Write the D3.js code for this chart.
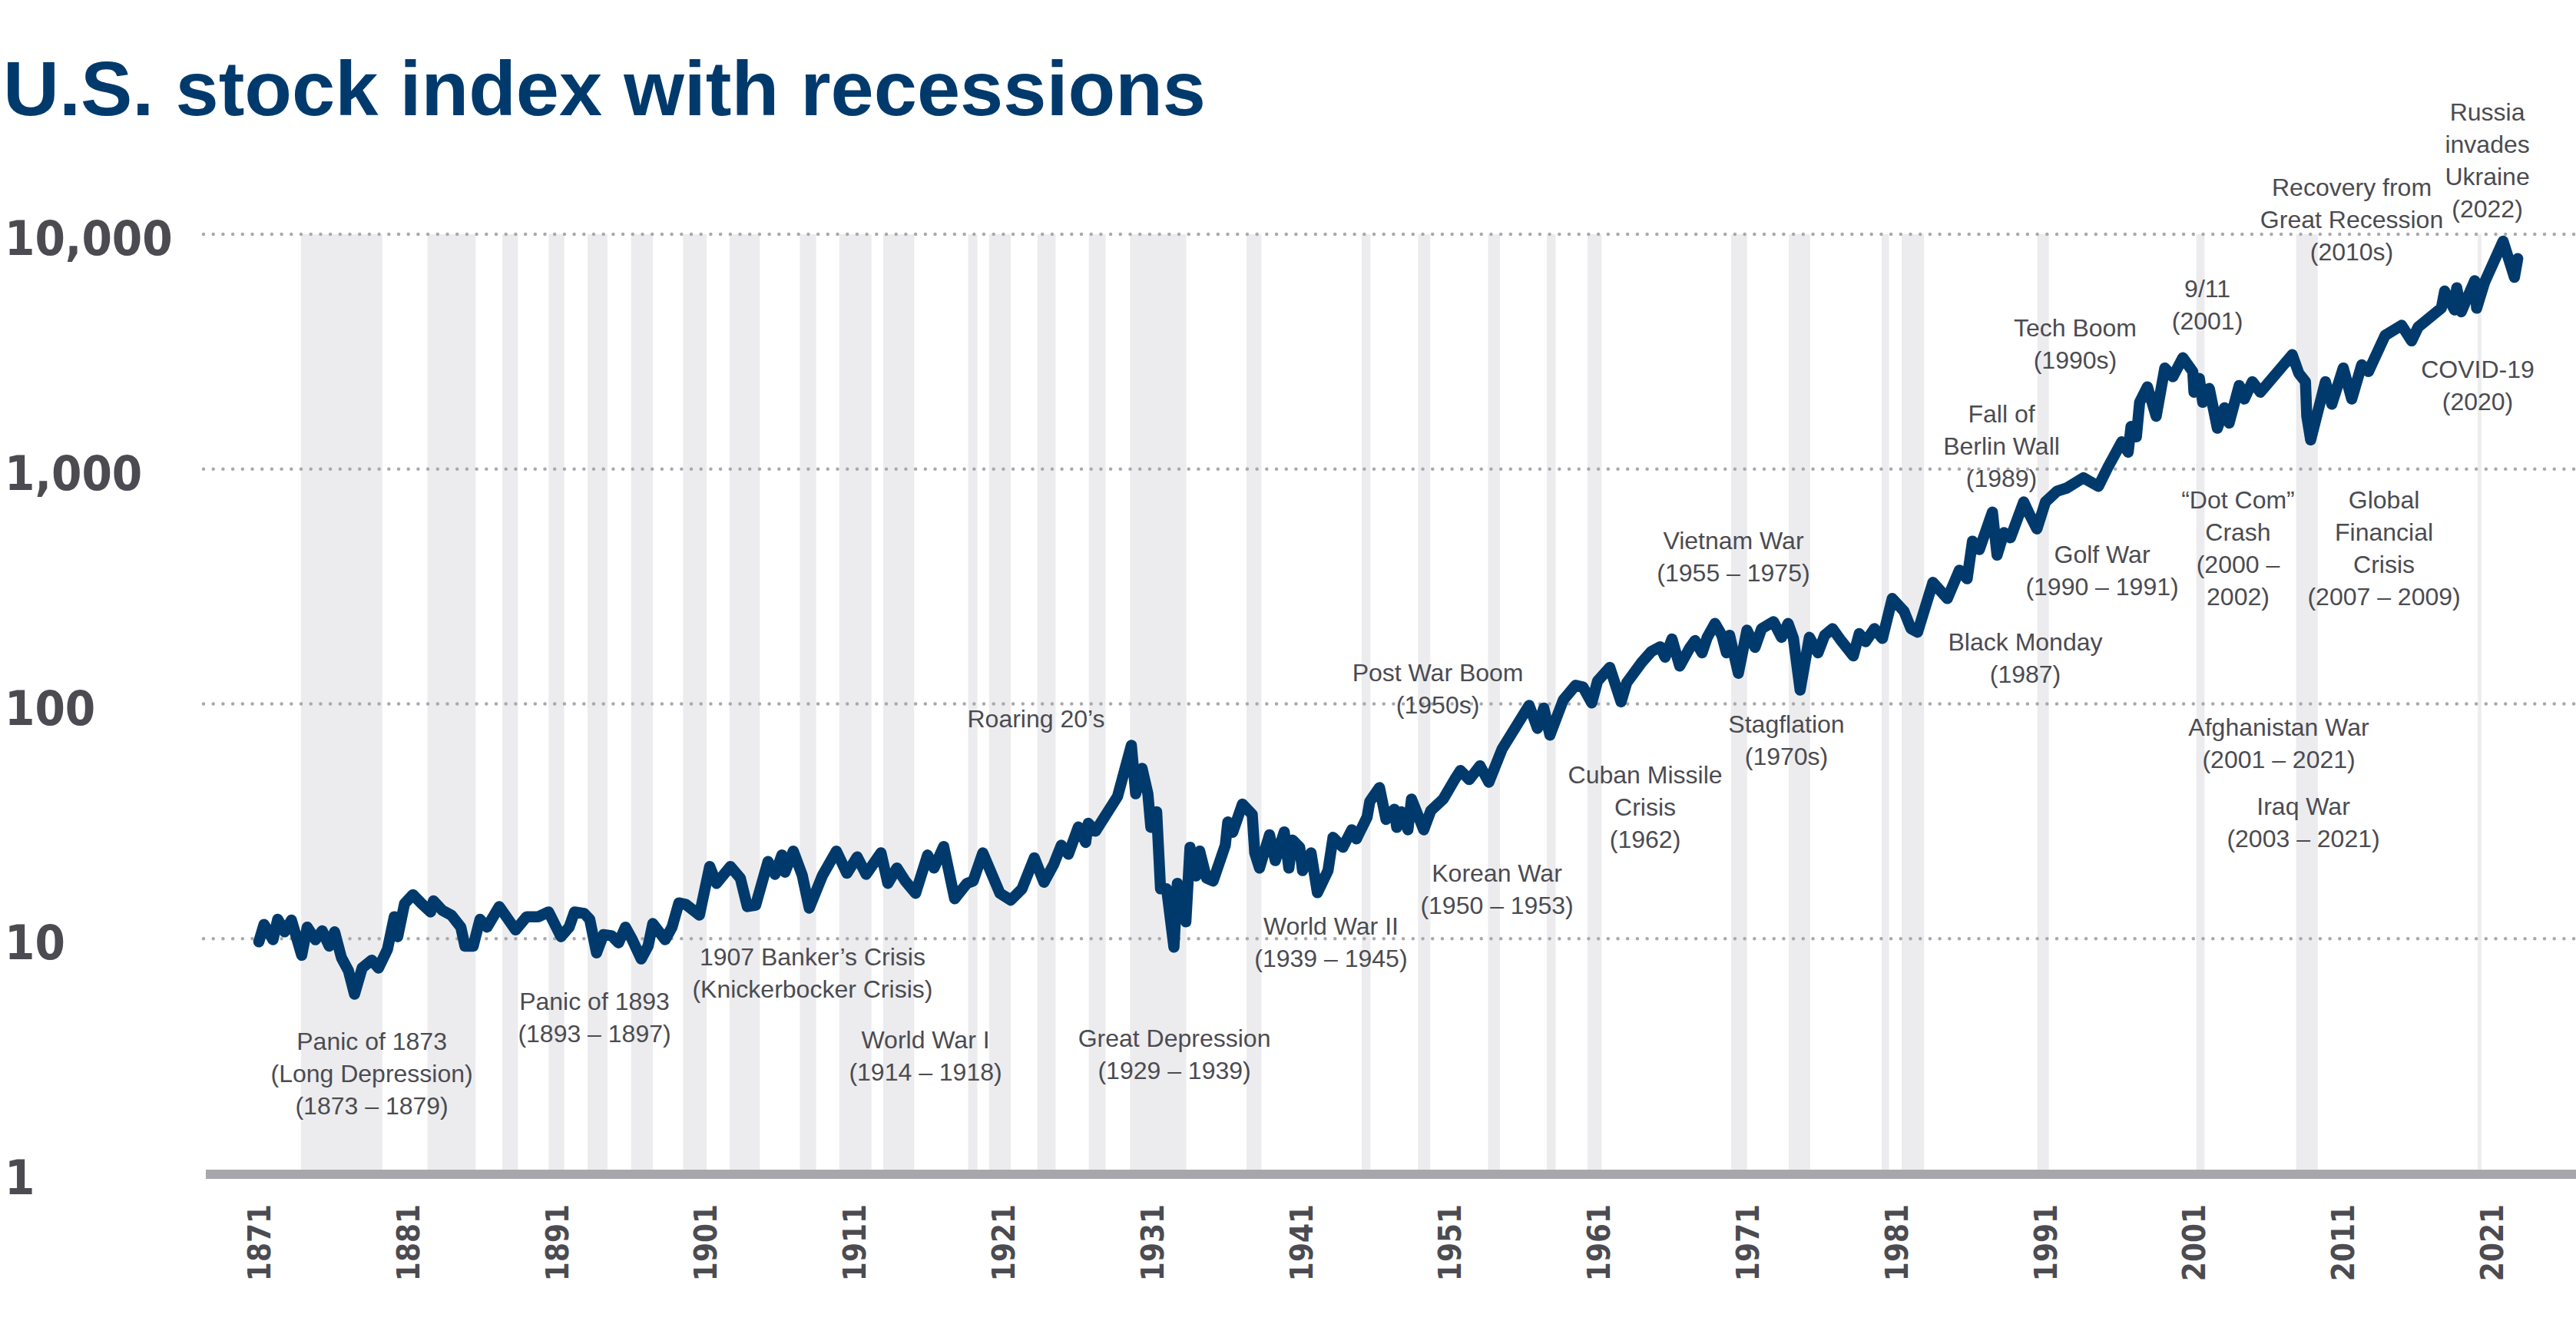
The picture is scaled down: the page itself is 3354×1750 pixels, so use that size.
<!DOCTYPE html>
<html>
<head>
<meta charset="utf-8">
<script src="https://cdn.jsdelivr.net/npm/d3@7"></script>
<style>
  html, body { margin: 0; padding: 0; background: #ffffff; }
  svg { display: block; }
</style>
</head>
<body>
<svg id="chart" width="3354" height="1750"></svg>
<script>
// ---------------- DATA ----------------
const chartTitle = "U.S. stock index with recessions";

const indexYears = [1871.0,1871.35,1871.95,1872.27,1872.73,1873.19,1873.88,1874.25,1874.8,1875.26,1875.73,1876.09,1876.55,1877.02,1877.43,1877.94,1878.59,1879.04,1879.64,1880.1,1880.33,1880.79,1881.35,1881.94,1882.54,1882.73,1883.33,1883.93,1884.57,1884.85,1885.4,1885.86,1886.33,1887.15,1888.25,1888.99,1889.78,1890.47,1891.3,1891.85,1892.21,1892.86,1893.23,1893.69,1894.15,1894.7,1895.17,1895.63,1896.09,1896.69,1897.15,1897.47,1898.3,1898.76,1899.22,1899.68,1900.6,1901.29,1901.75,1902.68,1903.35,1903.82,1904.38,1905.21,1905.68,1906.14,1906.35,1906.91,1907.51,1907.98,1908.87,1909.8,1910.51,1911.2,1911.8,1912.8,1913.26,1913.87,1914.43,1915.12,1915.93,1916.36,1917.01,1917.75,1918.57,1918.99,1919.64,1920.79,1921.52,1922.27,1923.1,1923.75,1924.4,1924.91,1925.39,1926.06,1926.55,1926.72,1927.21,1928.69,1929.62,1929.91,1930.34,1930.73,1930.93,1931.32,1931.58,1931.99,1932.48,1932.71,1933.28,1933.56,1933.95,1934.21,1934.67,1935.11,1935.93,1936.1,1936.43,1937.08,1937.74,1937.91,1938.23,1938.9,1939.29,1939.89,1940.2,1940.45,1940.93,1941.12,1941.69,1942.12,1942.83,1943.17,1943.83,1944.43,1944.74,1945.46,1945.64,1946.29,1946.73,1947.29,1947.45,1947.78,1948.2,1948.44,1949.26,1949.74,1950.57,1951.39,1951.73,1952.32,1953.04,1953.64,1954.52,1956.34,1956.91,1957.33,1957.74,1958.64,1959.46,1959.96,1960.55,1960.94,1961.76,1962.52,1962.9,1963.9,1964.55,1965.15,1965.48,1965.94,1966.46,1967.13,1967.49,1967.96,1968.31,1968.83,1969.29,1969.6,1969.81,1970.4,1970.98,1971.52,1971.96,1972.76,1973.3,1973.74,1974.1,1974.55,1975.17,1975.75,1976.2,1976.73,1977.3,1978.12,1978.52,1978.95,1979.54,1980.08,1980.74,1981.53,1982.0,1982.44,1983.47,1984.44,1985.25,1985.77,1986.13,1986.59,1987.47,1987.78,1988.24,1988.68,1989.57,1990.0,1990.46,1991.03,1991.8,1992.46,1993.58,1994.59,1995.22,1996.16,1996.59,1996.78,1997.14,1997.36,1997.88,1998.47,1999.05,1999.59,2000.26,2000.93,2001.01,2001.37,2001.6,2002.04,2002.58,2003.06,2003.37,2004.05,2004.39,2004.93,2005.47,2007.61,2008.05,2008.5,2008.59,2008.85,2009.84,2010.27,2011.04,2011.61,2012.28,2012.73,2013.85,2014.96,2015.63,2016.07,2017.63,2017.85,2018.52,2018.66,2018.97,2019.87,2020.0,2020.53,2021.78,2022.54,2022.76];

const indexValues = [9.7,11.5,9.9,12.1,10.7,12.0,8.5,11.2,9.9,10.8,9.3,10.7,8.3,7.3,5.8,7.5,8.1,7.5,9.0,12.4,10.2,14.1,15.4,14.1,13.0,14.5,13.2,12.6,11.2,9.3,9.3,12.1,11.2,13.7,10.9,12.4,12.4,13.0,10.2,11.2,13.0,12.8,12.1,8.7,10.4,10.3,9.6,11.2,9.9,8.2,9.3,11.6,9.9,11.2,14.2,14.0,12.6,20.3,17.2,20.3,18.1,13.7,13.9,21.3,18.8,22.7,19.2,23.6,18.6,13.5,18.6,23.6,19.0,22.3,18.8,23.2,17.2,20.0,17.6,15.6,22.7,20,24.7,14.8,17.2,17.6,23.2,15.6,14.6,16.3,22.1,17.4,20.7,25.0,22.9,29.9,25.7,31.0,28.7,40.3,66.6,41.4,53.1,41.4,29.8,34.7,16.3,16.3,9.2,17.2,11.8,24.5,18.5,23.6,18.1,17.6,25,31.4,28.4,37.4,33.8,23.2,20,27.7,21.5,28.5,20,26.3,24.5,19.5,23.2,15.7,19.5,27,24.5,29.1,26.6,33,38.4,44,32.2,35.6,29.8,34.7,29.1,39.3,29.1,35.1,39.3,48.2,52,47.6,54.5,46.4,64.1,98.5,78.6,96,73.6,104,120,118,101,125,143,102,123,150,167,175,158,189,145,173,186,165,192,220,196,165,196,135,206,174,209,224,192,220,190,114.5,192,165,196,209,186,160,199,184,209,190,281,248,209,202,329,281,371,341,493,454,656,430,536,510,724,634,556,724,804,830,918,844,1016,1306,1180,1518,1371,1924,2240,1679,2692,2473,2978,2600,2125,2432,1924,2203,1493,1824,1571,2270,1987,2355,2125,3069,2560,2355,1679,1331,2355,1890,2692,1987,2780,2600,3707,4093,3516,4025,4844,5728,4761,5914,4677,6335,4844,6233,9338,6561,7879];

// Recession periods (decimal years)
const recessionStarts = [1873.83,1882.33,1887.36,1890.47,1893.08,1896.01,1899.5,1902.63,1907.35,1910.0,1912.95,1918.65,1920.06,1923.3,1926.76,1929.53,1937.36,1945.09,1948.88,1953.58,1957.53,1960.26,1969.91,1973.79,1980.03,1981.37,1990.49,2001.17,2007.87,2020.08];
const recessionEnds   = [1879.3,1885.56,1888.41,1891.52,1894.42,1897.47,1901.09,1904.66,1908.44,1912.16,1915.03,1919.27,1921.52,1924.53,1927.89,1933.31,1938.36,1945.68,1949.7,1954.38,1958.12,1961.21,1970.99,1975.22,1980.52,1982.88,1991.26,2001.72,2009.33,2020.32];

const yTickValues = [1, 10, 100, 1000, 10000];
const yTickLabels = ["1", "10", "100", "1,000", "10,000"];
const xTickValues = [1871,1881,1891,1901,1911,1921,1931,1941,1951,1961,1971,1981,1991,2001,2011,2021];
const xTickLabels = ["1871","1881","1891","1901","1911","1921","1931","1941","1951","1961","1971","1981","1991","2001","2011","2021"];

// Annotation texts, anchored at (year, index value) of the first line's baseline
const annotationLines = [
  ["Panic of 1873", "(Long Depression)", "(1873 – 1879)"],
  ["Panic of 1893", "(1893 – 1897)"],
  ["1907 Banker’s Crisis", "(Knickerbocker Crisis)"],
  ["World War I", "(1914 – 1918)"],
  ["Great Depression", "(1929 – 1939)"],
  ["Roaring 20’s"],
  ["Post War Boom", "(1950s)"],
  ["World War II", "(1939 – 1945)"],
  ["Korean War", "(1950 – 1953)"],
  ["Cuban Missile", "Crisis", "(1962)"],
  ["Vietnam War", "(1955 – 1975)"],
  ["Stagflation", "(1970s)"],
  ["Black Monday", "(1987)"],
  ["Fall of", "Berlin Wall", "(1989)"],
  ["Tech Boom", "(1990s)"],
  ["Golf War", "(1990 – 1991)"],
  ["9/11", "(2001)"],
  ["“Dot Com”", "Crash", "(2000 –", "2002)"],
  ["Global", "Financial", "Crisis", "(2007 – 2009)"],
  ["Afghanistan War", "(2001 – 2021)"],
  ["Iraq War", "(2003 – 2021)"],
  ["COVID-19", "(2020)"],
  ["Recovery from", "Great Recession", "(2010s)"],
  ["Russia", "invades", "Ukraine", "(2022)"]
];
const annotationYears  = [1878.59,1893.55,1908.2,1915.79,1932.51,1923.22,1950.21,1943.03,1954.18,1964.14,1970.07,1973.63,1989.68,1988.08,1993.03,1994.84,2001.91,2003.97,2013.78,2006.71,2008.36,2020.07,2011.61,2020.72];
const annotationValues = [3.363,4.974,7.697,3.413,3.465,79.5,124.9,10.40,17.49,45.86,456,75.4,168.8,1580,3673,398.2,5393,679.9,680,72.9,33.7,2445,14575,30549];

// ---------------- LAYOUT ----------------
const W = 3354, H = 1750;
const plotLeft = 265, plotRight = 3354;
const axisBarLeft = 268, axisBarHeight = 12;
const lineHeight = 42;

const navy = "#003a6c";
const grey = "#4b4b51";

const x = d3.scaleLinear().domain([1871, 2021]).range([337, 3244]);
const y = d3.scaleLog().domain([1, 10000]).range([1528, 305]);

const svg = d3.select("#chart");
svg.append("rect").attr("width", W).attr("height", H).attr("fill", "#ffffff");

// Title
svg.append("text")
  .attr("x", 4).attr("y", 150)
  .attr("font-family", "'Liberation Sans', Arial, sans-serif")
  .attr("font-weight", "bold")
  .attr("font-size", 101)
  .attr("fill", navy)
  .text(chartTitle);

// Recession bands
const recessions = recessionStarts.map((s, i) => ({ start: s, end: recessionEnds[i] }));
svg.append("g").selectAll("rect").data(recessions).join("rect")
  .attr("x", d => x(d.start))
  .attr("width", d => x(d.end) - x(d.start))
  .attr("y", y(10000))
  .attr("height", y(1) - 5 - y(10000))
  .attr("fill", "#ececee");

// Dotted gridlines
svg.append("g").selectAll("line").data(yTickValues.filter(v => v > 1)).join("line")
  .attr("x1", plotLeft).attr("x2", plotRight)
  .attr("y1", d => y(d)).attr("y2", d => y(d))
  .attr("stroke", "#a9a9ad")
  .attr("stroke-width", 4.5)
  .attr("stroke-linecap", "round")
  .attr("stroke-dasharray", "0 12.7");

// Y-axis labels
svg.append("g").selectAll("text").data(yTickValues).join("text")
  .attr("x", 6)
  .attr("y", d => y(d) + 27)
  .attr("font-family", "'DejaVu Sans Condensed', 'DejaVu Sans', sans-serif")
  .attr("font-stretch", "condensed")
  .attr("font-weight", "bold")
  .attr("font-size", 63)
  .attr("fill", grey)
  .text((d, i) => yTickLabels[i]);

// Index line
const lineData = indexYears.map((yr, i) => ({ year: yr, value: indexValues[i] }));
const lineGen = d3.line().x(d => x(d.year)).y(d => y(d.value));
svg.append("path")
  .datum(lineData)
  .attr("d", lineGen)
  .attr("fill", "none")
  .attr("stroke", navy)
  .attr("stroke-width", 14.5)
  .attr("stroke-linejoin", "round")
  .attr("stroke-linecap", "round");

// Annotations
const annG = svg.append("g")
  .attr("font-family", "'Liberation Sans', Arial, sans-serif")
  .attr("font-size", 32)
  .attr("fill", grey)
  .attr("text-anchor", "middle");
annotationLines.forEach((lines, i) => {
  const t = annG.append("text")
    .attr("x", x(annotationYears[i]))
    .attr("y", y(annotationValues[i]));
  lines.forEach((ln, j) => {
    t.append("tspan")
      .attr("x", x(annotationYears[i]))
      .attr("dy", j === 0 ? 0 : lineHeight)
      .text(ln);
  });
});

// Axis bar at the bottom
svg.append("rect")
  .attr("x", axisBarLeft)
  .attr("y", y(1) - 5)
  .attr("width", plotRight - axisBarLeft)
  .attr("height", axisBarHeight)
  .attr("fill", "#a7a7ab");

// X axis (rotated year labels)
const xAxis = d3.axisBottom(x)
  .tickValues(xTickValues)
  .tickFormat((d, i) => xTickLabels[i])
  .tickSize(0);
const xg = svg.append("g")
  .attr("transform", "translate(0,1568)")
  .call(xAxis);
xg.select(".domain").remove();
xg.selectAll("text")
  .attr("x", 0).attr("y", 0)
  .attr("dy", "0.36em")
  .attr("transform", "rotate(-90)")
  .attr("text-anchor", "end")
  .attr("font-family", "'DejaVu Sans Condensed', 'DejaVu Sans', sans-serif")
  .attr("font-stretch", "condensed")
  .attr("font-weight", "bold")
  .attr("font-size", 40)
  .attr("fill", grey);
</script>
</body>
</html>
